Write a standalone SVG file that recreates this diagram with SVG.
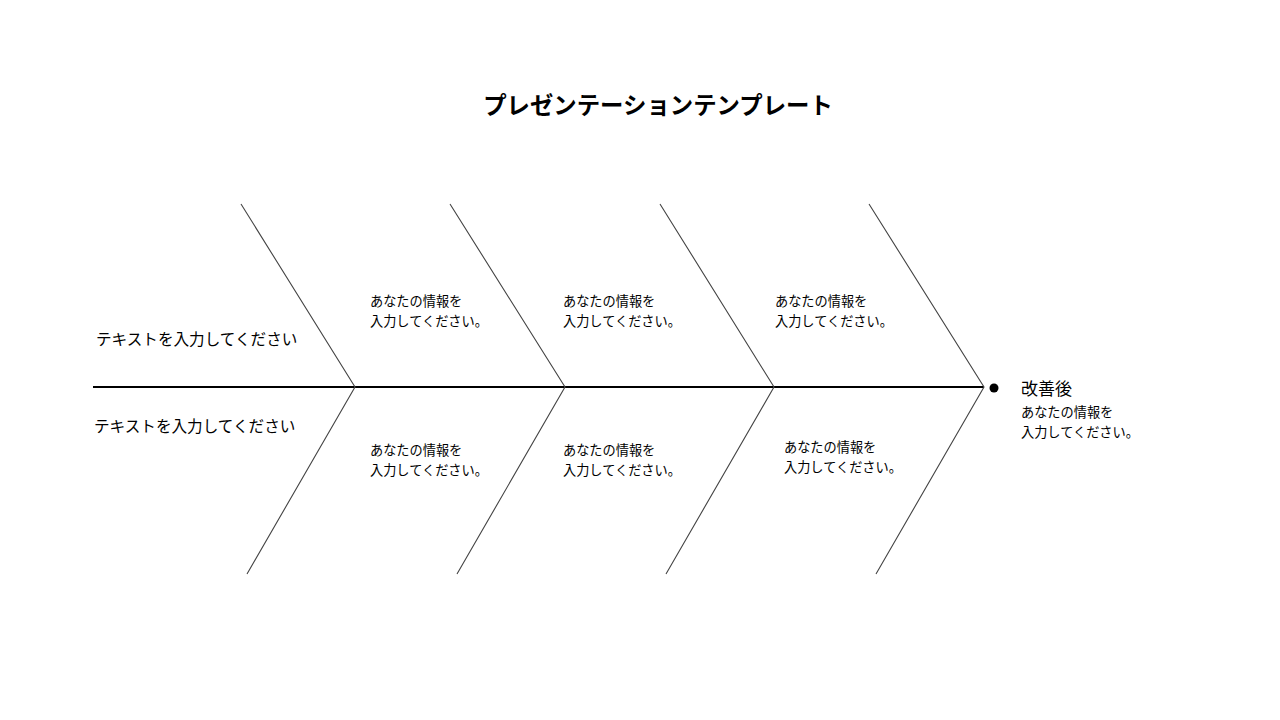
<svg xmlns="http://www.w3.org/2000/svg" width="1280" height="720" viewBox="0 0 1280 720">
<style>
text{font-family:"Noto Sans CJK JP","Noto Sans",sans-serif;fill:#000}
.t{font-size:23.4px;font-weight:bold}
.m{font-size:15.6px}
.s{font-size:13.2px}
.h{font-size:17px}
.bone{stroke:#444;stroke-width:1.1;fill:none}
.spine{stroke:#000;stroke-width:2;fill:none}
</style>
<rect width="1280" height="720" fill="#fff"/>
<g id="title"><text class="t" x="658" y="114" text-anchor="middle">プレゼンテーションテンプレート</text></g>
<g id="connectors">
<line class="spine" x1="93" y1="387" x2="984" y2="387"/>
<polyline class="bone" points="241,204 355,387 247,574"/>
<polyline class="bone" points="450,204 565,387 457,574"/>
<polyline class="bone" points="660,204 774,387 666,574"/>
<polyline class="bone" points="869,204 984,387 876,574"/>
</g>
<g id="label-top"><text class="m" x="96" y="345">テキストを入力してください</text></g>
<g id="label-bottom"><text class="m" x="94" y="432">テキストを入力してください</text></g>
<g id="cause-1"><text class="s" x="370" y="306">あなたの情報を</text><text class="s" x="370" y="326">入力してください。</text></g>
<g id="cause-2"><text class="s" x="563" y="306">あなたの情報を</text><text class="s" x="563" y="326">入力してください。</text></g>
<g id="cause-3"><text class="s" x="775" y="306">あなたの情報を</text><text class="s" x="775" y="326">入力してください。</text></g>
<g id="cause-4"><text class="s" x="370" y="455">あなたの情報を</text><text class="s" x="370" y="475">入力してください。</text></g>
<g id="cause-5"><text class="s" x="563" y="455">あなたの情報を</text><text class="s" x="563" y="475">入力してください。</text></g>
<g id="cause-6"><text class="s" x="784" y="452">あなたの情報を</text><text class="s" x="784" y="472">入力してください。</text></g>
<g id="effect">
<circle cx="994" cy="388" r="4.5" fill="#000"/>
<text class="h" x="1021" y="395">改善後</text>
<text class="s" x="1021" y="417">あなたの情報を</text>
<text class="s" x="1021" y="437">入力してください。</text>
</g>
</svg>
